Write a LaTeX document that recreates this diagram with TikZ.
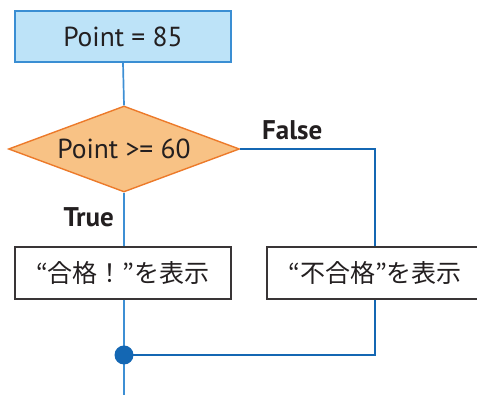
\documentclass[tikz,border=0pt]{standalone}
\usepackage{fontspec}
\setmainfont{PT Sans}
\newfontfamily\jpfont{Noto Sans CJK JP}
\usetikzlibrary{shapes.geometric}
\definecolor{boxblue}{HTML}{BDE3F8}
\definecolor{edgeblue}{HTML}{3A8ED3}
\definecolor{lineblue}{HTML}{3D8FD4}
\definecolor{darkblue}{HTML}{1467B3}
\definecolor{orfill}{HTML}{F8C285}
\definecolor{oredge}{HTML}{EC7A2A}
\definecolor{txt}{HTML}{231F20}
\tikzset{
  startbox/.style={draw=edgeblue, fill=boxblue, line width=1.4pt, minimum width=216pt, minimum height=51pt, inner sep=0pt, text=txt, font=\fontsize{27.5}{30}\selectfont},
  decbox/.style={diamond, draw=oredge, fill=orfill, line width=1.4pt, aspect=2.69, minimum width=231pt, minimum height=86pt, inner sep=0pt, text=txt, font=\fontsize{27.5}{30}\selectfont},
  procbox/.style={draw=txt!90, fill=white, line width=1.2pt, minimum width=216pt, minimum height=52pt, inner sep=0pt, text=txt, font=\jpfont\fontsize{25}{28}\selectfont},
  thinline/.style={draw=lineblue, line width=1.7pt},
  thickline/.style={draw=darkblue, line width=2.7pt},
  lbl/.style={text=txt, font=\bfseries\fontsize{27}{30}\selectfont, inner sep=0pt}
}
\begin{document}
\begin{tikzpicture}[x=1pt,y=1pt]
\useasboundingbox (0,0) rectangle (477,395);
\node[startbox] (start) at (123,358.5) {Point = 85};
\node[decbox] (dec) at (124,246) {Point >= 60};
\node[procbox] (pass) at (123,122) {“合格！”を表示};
\node[procbox] (fail) at (375,122) {“不合格”を表示};
\coordinate (join) at (124,40);
\coordinate (bend) at (375,246);
\coordinate (bend2) at (375,40);
\coordinate (out) at (124,0);
\node[lbl, anchor=west] (flbl) at (262,265) {False};
\node[lbl, anchor=east] (tlbl) at (114,178) {True};
\draw[thinline] (start.south) -- (dec.north);
\draw[thinline] (dec.south) -- (dec.south |- pass.north);
\draw[thinline] (dec.south |- pass.south) -- (join) -- (out);
\draw[thickline] (dec.east) -- (bend) -- (fail.north);
\draw[thickline] (fail.south) -- (bend2) -- (join);
\fill[darkblue] (join) circle (9.5pt);
\end{tikzpicture}
\end{document}
